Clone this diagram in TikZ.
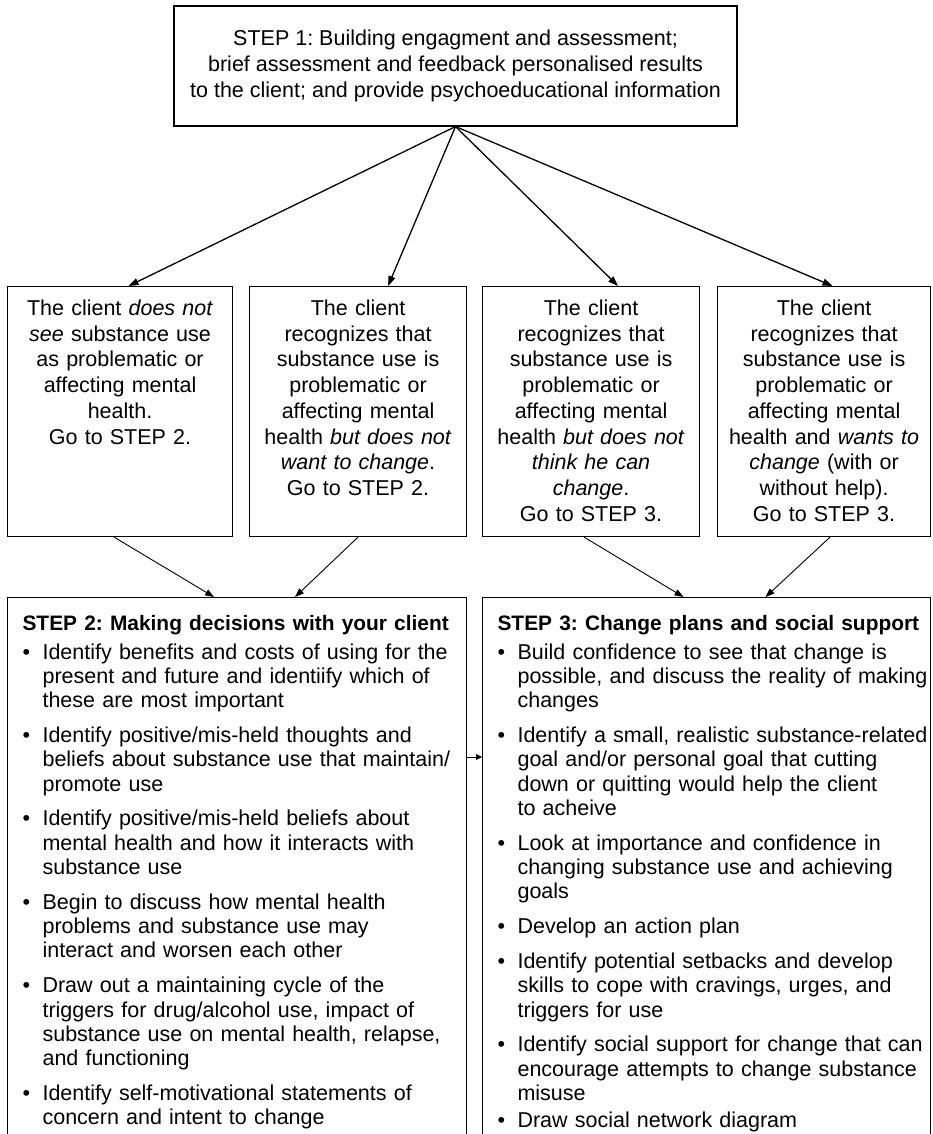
\documentclass[tikz,border=0pt]{standalone}
\usepackage{fontspec}
\setmainfont{Liberation Sans}
\frenchspacing
\usetikzlibrary{arrows.meta}
\newcommand{\stephead}[1]{\multicolumn{2}{@{}l@{}}{\fontsize{20.9}{24.3}\selectfont\bfseries #1}}
\tikzset{every node/.style={font=\fontsize{21.5}{25.7}\selectfont},
 topbox/.style={draw,line width=1.1pt,align=center,minimum width=563pt,minimum height=120pt,inner sep=0pt,font=\fontsize{21.5}{26}\selectfont},
 choice/.style={draw,line width=1.1pt,align=center,anchor=north west,inner xsep=0pt,inner ysep=0pt,text height=29pt,text depth=221pt},
 stepbox/.style={draw,line width=1.1pt,align=left,anchor=north west,inner xsep=15pt,inner ysep=0pt,text height=33pt,text depth=560pt,font=\fontsize{21.5}{24.3}\selectfont},
 link/.style={-{Triangle[length=10pt,width=7pt]},line width=1.3pt},
 thinlink/.style={-{Triangle[length=9pt,width=6.5pt]},line width=.9pt}}

\begin{document}
\begin{tikzpicture}[x=1pt,y=-1pt]

\useasboundingbox (0,0) rectangle (932,1134);
\clip (0,0) rectangle (932,1134);
\node[topbox] (step1) at (455.5,66) {STEP 1: Building engagment and assessment;\\
 brief assessment and feedback personalised results\\
 to the client; and provide psychoeducational information};
% four answers of the client
\node[choice,text width=225pt] (notsee) at (7,286) {The client \textit{does not}\\ \textit{see} substance use\\ as problematic or\\ affecting mental\\ health.\\ Go to STEP 2.};
\node[choice,text width=217pt] (nowant) at (249,286) {The client\\ recognizes that\\ substance use is\\ problematic or\\ affecting mental\\ health \textit{but does not}\\ \textit{want to change}.\\ Go to STEP 2.};
\node[choice,text width=217pt] (nocan) at (482,286) {The client\\ recognizes that\\ substance use is\\ problematic or\\ affecting mental\\ health \textit{but does not}\\ \textit{think he can}\\ \textit{change}.\\ Go to STEP 3.};
\node[choice,text width=213pt] (wants) at (717,286) {The client\\ recognizes that\\ substance use is\\ problematic or\\ affecting mental\\ health and \textit{wants to}\\ \textit{change} (with or\\ without help).\\ Go to STEP 3.};
% step 2 and step 3
\node[stepbox,text width=429pt] (step2) at (7,597) {%
\begin{tabular}[t]{@{}p{20pt}@{}l@{}}
\stephead{STEP 2: Making decisions with your client}\\[4.3pt]
\textbullet & Identify benefits and costs of using for the\\
 & present and future and identiify which of\\
 & these are most important\\[10.5pt]
\textbullet & Identify positive/mis-held thoughts and\\
 & beliefs about substance use that maintain/\\
 & promote use\\[10.5pt]
\textbullet & Identify positive/mis-held beliefs about\\
 & mental health and how it interacts with\\
 & substance use\\[10.5pt]
\textbullet & Begin to discuss how mental health\\
 & problems and substance use may\\
 & interact and worsen each other\\[10.5pt]
\textbullet & Draw out a maintaining cycle of the\\
 & triggers for drug/alcohol use, impact of\\
 & substance use on mental health, relapse,\\
 & and functioning\\[10.5pt]
\textbullet & Identify self-motivational statements of\\
 & concern and intent to change
\end{tabular}};
\node[stepbox,text width=418pt] (step3) at (482,597) {%
\begin{tabular}[t]{@{}p{20pt}@{}l@{}}
\stephead{STEP 3: Change plans and social support}\\[4.3pt]
\textbullet & Build confidence to see that change is\\
 & possible, and discuss the reality of making\\
 & changes\\[10.5pt]
\textbullet & Identify a small, realistic substance-related\\
 & goal and/or personal goal that cutting\\
 & down or quitting would help the client\\
 & to acheive\\[10.5pt]
\textbullet & Look at importance and confidence in\\
 & changing substance use and achieving\\
 & goals\\[10.5pt]
\textbullet & Develop an action plan\\[10.5pt]
\textbullet & Identify potential setbacks and develop\\
 & skills to cope with cravings, urges, and\\
 & triggers for use\\[10.5pt]
\textbullet & Identify social support for change that can\\
 & encourage attempts to change substance\\
 & misuse\\[3pt]
\textbullet & Draw social network diagram
\end{tabular}};

\draw[link] (step1.south) -- ([xshift=8.5pt]notsee.north);
\draw[link] (step1.south) -- ([xshift=30pt]nowant.north);
\draw[link] (step1.south) -- ([xshift=27pt]nocan.north);
\draw[link] (step1.south) -- ([xshift=8.5pt]wants.north);
\draw[thinlink] ([xshift=-6pt]notsee.south) -- ([xshift=-23pt]step2.north);
\draw[thinlink] (nowant.south) -- ([xshift=58pt]step2.north);
\draw[thinlink] ([xshift=-7pt]nocan.south) -- ([xshift=-23pt]step3.north);
\draw[thinlink] ([xshift=6pt]wants.south) -- ([xshift=59pt]step3.north);
\draw[-{Triangle[length=6pt,width=6pt]},line width=.9pt] ([yshift=-160pt]step2.north east) -- ([yshift=-160pt]step3.north west);

\end{tikzpicture}
\end{document}
